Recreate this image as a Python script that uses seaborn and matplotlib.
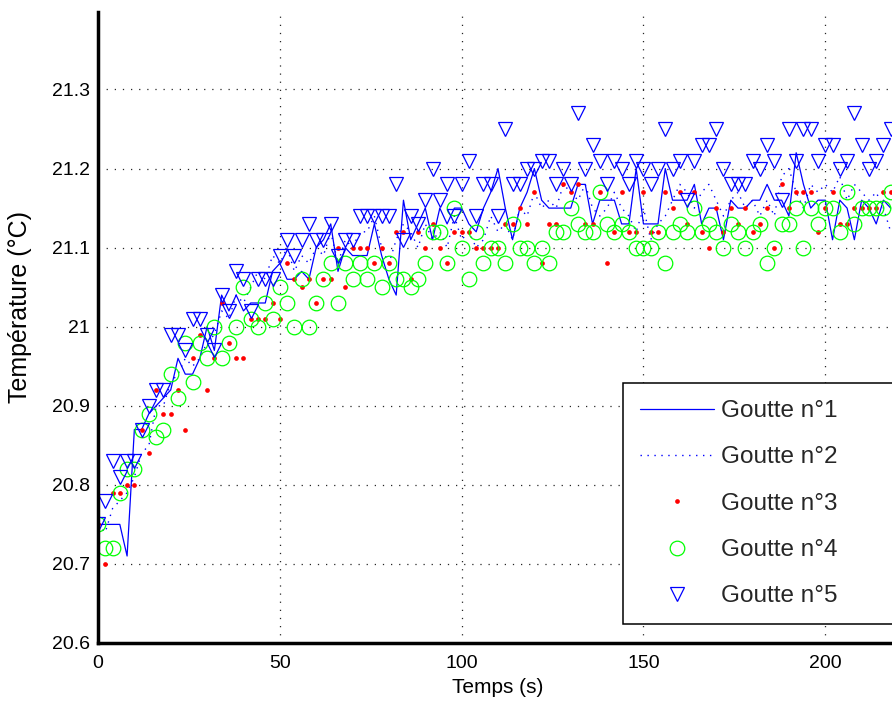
import numpy as np
import matplotlib
matplotlib.use("Agg")
import matplotlib.pyplot as plt
import seaborn as sns

# temps d'acquisition (un point toutes les 2 s)
temps = np.arange(110) * 2

goutte1 = [20.75, 20.75, 20.75, 20.75, 20.71, 20.87, 20.87, 20.89, 20.90, 20.91,
           20.92, 20.96, 20.94, 20.94, 20.96, 21.00, 20.97, 21.04, 21.02, 21.04,
           21.02, 21.03, 21.03, 21.03, 21.07, 21.08, 21.06, 21.06, 21.07, 21.06,
           21.10, 21.11, 21.13, 21.07, 21.10, 21.09, 21.09, 21.09, 21.13, 21.09,
           21.06, 21.04, 21.16, 21.11, 21.13, 21.15, 21.11, 21.15, 21.13, 21.15,
           21.15, 21.13, 21.12, 21.15, 21.17, 21.20, 21.15, 21.11, 21.15, 21.17,
           21.20, 21.16, 21.15, 21.15, 21.15, 21.15, 21.18, 21.18, 21.13, 21.16,
           21.16, 21.16, 21.13, 21.13, 21.20, 21.13, 21.13, 21.13, 21.20, 21.16,
           21.16, 21.16, 21.18, 21.13, 21.15, 21.15, 21.11, 21.16, 21.15, 21.15,
           21.16, 21.16, 21.18, 21.16, 21.16, 21.14, 21.22, 21.18, 21.15, 21.16,
           21.16, 21.11, 21.16, 21.15, 21.11, 21.16, 21.15, 21.13, 21.16, 21.15]

goutte2 = [20.75, 20.74, 20.77, 20.78, 20.79, 20.81, 20.84, 20.85, 20.90, 20.90,
           20.93, 20.94, 20.96, 20.95, 20.96, 20.98, 20.99, 21.02, 21.01, 21.04,
           21.03, 21.05, 21.07, 21.06, 21.09, 21.08, 21.10, 21.07, 21.09, 21.08,
           21.10, 21.09, 21.12, 21.08, 21.11, 21.10, 21.12, 21.12, 21.14, 21.10,
           21.08, 21.11, 21.13, 21.12, 21.10, 21.13, 21.11, 21.12, 21.10, 21.14,
           21.11, 21.12, 21.10, 21.11, 21.14, 21.12, 21.13, 21.11, 21.15, 21.14,
           21.17, 21.15, 21.16, 21.15, 21.18, 21.17, 21.16, 21.18, 21.15, 21.14,
           21.15, 21.17, 21.15, 21.14, 21.12, 21.15, 21.11, 21.13, 21.14, 21.16,
           21.18, 21.17, 21.15, 21.17, 21.18, 21.16, 21.14, 21.16, 21.17, 21.15,
           21.16, 21.14, 21.16, 21.14, 21.19, 21.20, 21.17, 21.15, 21.18, 21.17,
           21.18, 21.17, 21.19, 21.16, 21.18, 21.17, 21.16, 21.17, 21.15, 21.12]

goutte3 = [20.75, 20.70, 20.79, 20.79, 20.80, 20.80, 20.87, 20.84, 20.92, 20.89,
           20.89, 20.92, 20.87, 20.96, 20.99, 20.92, 20.96, 21.03, 20.98, 20.96,
           20.96, 21.01, 21.01, 21.01, 21.03, 21.01, 21.08, 21.06, 21.05, 21.06,
           21.03, 21.06, 21.06, 21.10, 21.05, 21.10, 21.10, 21.10, 21.08, 21.10,
           21.08, 21.12, 21.12, 21.06, 21.12, 21.10, 21.13, 21.10, 21.08, 21.12,
           21.12, 21.12, 21.10, 21.10, 21.10, 21.10, 21.13, 21.13, 21.15, 21.13,
           21.17, 21.08, 21.13, 21.13, 21.18, 21.17, 21.18, 21.13, 21.13, 21.17,
           21.08, 21.12, 21.17, 21.12, 21.12, 21.17, 21.12, 21.12, 21.17, 21.15,
           21.17, 21.13, 21.17, 21.12, 21.10, 21.15, 21.12, 21.15, 21.13, 21.15,
           21.12, 21.13, 21.15, 21.10, 21.18, 21.15, 21.17, 21.17, 21.17, 21.12,
           21.15, 21.17, 21.13, 21.13, 21.15, 21.15, 21.15, 21.15, 21.17, 21.17]

goutte4 = [20.75, 20.72, 20.72, 20.79, 20.82, 20.82, 20.87, 20.89, 20.86, 20.87,
           20.94, 20.91, 20.98, 20.93, 20.98, 20.96, 21.00, 20.96, 20.98, 21.00,
           21.05, 21.01, 21.00, 21.03, 21.01, 21.05, 21.03, 21.00, 21.06, 21.00,
           21.03, 21.06, 21.08, 21.03, 21.08, 21.06, 21.08, 21.06, 21.08, 21.05,
           21.08, 21.06, 21.06, 21.05, 21.06, 21.08, 21.12, 21.12, 21.08, 21.15,
           21.10, 21.06, 21.12, 21.08, 21.10, 21.10, 21.08, 21.13, 21.10, 21.10,
           21.08, 21.10, 21.08, 21.12, 21.12, 21.15, 21.13, 21.12, 21.12, 21.17,
           21.13, 21.12, 21.13, 21.12, 21.10, 21.10, 21.10, 21.12, 21.08, 21.12,
           21.13, 21.12, 21.15, 21.12, 21.13, 21.12, 21.10, 21.13, 21.12, 21.10,
           21.12, 21.13, 21.08, 21.10, 21.13, 21.13, 21.15, 21.10, 21.15, 21.13,
           21.15, 21.15, 21.12, 21.17, 21.13, 21.15, 21.15, 21.15, 21.15, 21.17]

goutte5 = [20.75, 20.78, 20.83, 20.81, 20.83, 20.83, 20.87, 20.90, 20.92, 20.92,
           20.99, 20.99, 20.97, 21.01, 21.01, 20.99, 20.97, 21.04, 21.02, 21.07,
           21.06, 21.02, 21.06, 21.06, 21.06, 21.09, 21.11, 21.09, 21.11, 21.13,
           21.11, 21.11, 21.13, 21.09, 21.11, 21.11, 21.14, 21.14, 21.14, 21.14,
           21.14, 21.18, 21.11, 21.14, 21.13, 21.16, 21.20, 21.16, 21.18, 21.14,
           21.18, 21.21, 21.14, 21.18, 21.18, 21.14, 21.25, 21.18, 21.18, 21.20,
           21.20, 21.21, 21.21, 21.18, 21.20, 21.18, 21.27, 21.20, 21.23, 21.21,
           21.18, 21.21, 21.20, 21.18, 21.21, 21.20, 21.18, 21.20, 21.25, 21.20,
           21.21, 21.16, 21.21, 21.23, 21.23, 21.25, 21.20, 21.18, 21.18, 21.18,
           21.21, 21.20, 21.23, 21.21, 21.16, 21.25, 21.21, 21.25, 21.25, 21.21,
           21.23, 21.23, 21.20, 21.21, 21.27, 21.23, 21.20, 21.21, 21.23, 21.25]

labels = ["Goutte n°1", "Goutte n°2", "Goutte n°3", "Goutte n°4", "Goutte n°5"]
yticks = [20.6, 20.7, 20.8, 20.9, 21.0, 21.1, 21.2, 21.3]
ytick_labels = ["20.6", "20.7", "20.8", "20.9", "21", "21.1", "21.2", "21.3"]
xticks = [0, 50, 100, 150, 200]

sns.set_theme(style="white")
plt.rcParams['font.family'] = ['Liberation Sans', 'DejaVu Sans']

fig = plt.figure(figsize=(8.92, 7.04), dpi=100)
ax = fig.add_axes([98 / 892, 61 / 704, 800 / 892, 631 / 704])

blue = (0, 0, 1)
sns.lineplot(x=temps, y=goutte1, ax=ax, color=blue, lw=0.9,
             estimator=None, sort=False, label=labels[0])
sns.lineplot(x=temps, y=goutte2, ax=ax, color=blue, lw=1.0, linestyle=(0, (1, 4)),
             estimator=None, sort=False, label=labels[1])
sns.lineplot(x=temps, y=goutte3, ax=ax, color="red", linestyle="", marker="o",
             markersize=3.4, markeredgewidth=0, markeredgecolor="red",
             estimator=None, sort=False, label=labels[2])
sns.lineplot(x=temps, y=goutte4, ax=ax, color=(0, 1, 0), linestyle="", marker="o",
             markersize=10.5, markerfacecolor="none", markeredgecolor=(0, 1, 0),
             markeredgewidth=0.9, estimator=None, sort=False, label=labels[3])
sns.lineplot(x=temps, y=goutte5, ax=ax, color=blue, linestyle="", marker="v",
             markersize=10.5, markerfacecolor="none", markeredgecolor=blue,
             markeredgewidth=0.9, estimator=None, sort=False, label=labels[4])

ax.set_xlim(0, 220)
ax.set_ylim(20.6, 21.398)
ax.set_xticks(xticks)
ax.set_xticklabels([str(v) for v in xticks])
ax.set_yticks(yticks)
ax.set_yticklabels(ytick_labels)

for side in ["top", "right"]:
    ax.spines[side].set_visible(False)
for side in ["left", "bottom"]:
    ax.spines[side].set_linewidth(2.5)
    ax.spines[side].set_color("black")

ax.tick_params(direction="in", length=6, width=2.2, labelsize=14, colors="black")
ax.tick_params(axis="x", pad=9)
ax.tick_params(axis="y", pad=6)
ax.grid(True, color="0.15", linestyle=(0, (1, 5.5)), linewidth=0.9)
ax.set_axisbelow(True)

ax.set_xlabel("Temps (s)", fontsize=15, labelpad=4, color="black")
ax.set_ylabel("Température (°C)", fontsize=18, color="black")
ax.yaxis.set_label_coords(-0.082, 0.532)

leg = ax.legend(loc="upper left", bbox_to_anchor=(0.656, 0.0, 0.5, 0.412),
                mode="expand", borderaxespad=0, fontsize=17.5, handlelength=3.05,
                handletextpad=0.3, labelspacing=1.0, borderpad=0.7,
                fancybox=False, framealpha=1, edgecolor="black", numpoints=1)
leg.get_frame().set_linewidth(1.1)

fig.savefig("out.png", dpi=100, facecolor="white")
